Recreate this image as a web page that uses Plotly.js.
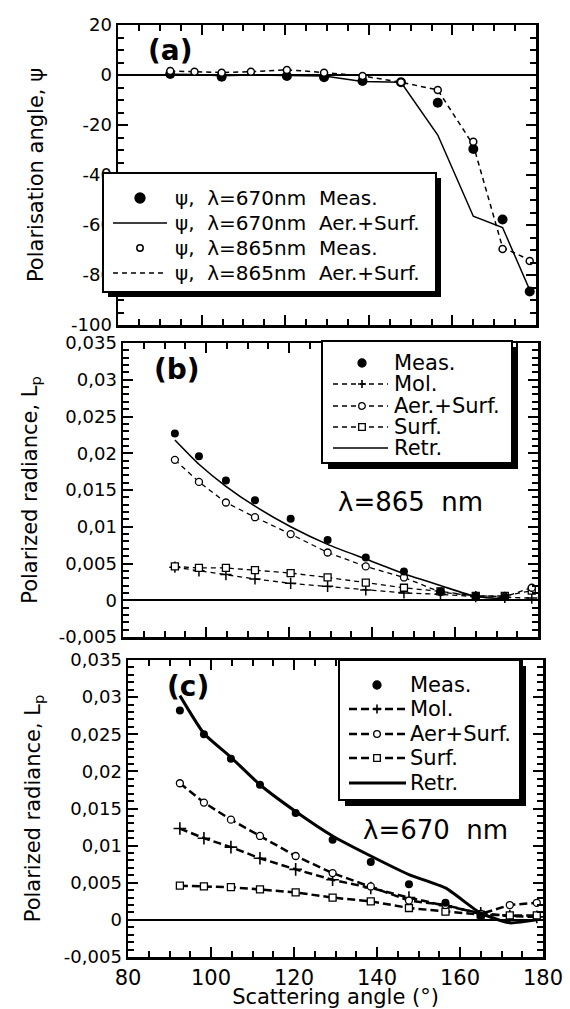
<!DOCTYPE html>
<html>
<head>
<meta charset="utf-8">
<script src="https://cdn.plot.ly/plotly-3.0.1.min.js"></script>
<style>
  html, body { margin: 0; padding: 0; background: #fff; }
  #fig { width: 570px; height: 1009px; }
</style>
</head>
<body>
<div id="fig"></div>
<script>
// Scattering angles (degrees) shared by all three panels
const ANGLES = [92.5, 98.3, 104.8, 111.8, 120.4, 129.3, 138.5, 147.7, 156.5, 165.0, 172.0, 178.5];

// (a) polarisation angle psi (degrees)
const psi670Meas  = [0.4, null, -0.7, null, -0.4, -0.9, -2.4, -2.9, -11.1, -29.6, -57.8, -86.6];
const psi670Model = [0.3, 0.2, -0.3, 0.0, -0.2, -0.4, -2.6, -2.9, -24.0, -56.5, -61.0, -86.0];
const psi865Meas  = [1.6, 1.3, 0.9, 1.3, 2.0, 0.9, -0.4, -2.9, -6.0, -26.7, -69.6, -74.4];
const psi865Model = [1.6, 1.4, 1.0, 1.3, 2.1, 1.0, -0.4, -2.9, -6.0, -28.0, -69.0, -74.0];

// (b) polarized radiance at 865 nm
const b865Meas = [0.0227, 0.0196, 0.0163, 0.0136, 0.0111, 0.0082, 0.0058, 0.0039, 0.0012, 0.0005, 0.0004, null];
const b865Mol  = [0.0045, 0.0040, 0.0035, 0.0029, 0.0023, 0.0019, 0.0014, 0.0010, 0.0008, 0.0005, 0.0004, 0.0003];
const b865Aer  = [0.0191, 0.0161, 0.0133, 0.0113, 0.0090, 0.0065, 0.0046, 0.0031, 0.0011, 0.0006, 0.0005, 0.0017];
const b865Surf = [0.0046, 0.0044, 0.0044, 0.0041, 0.0037, 0.0031, 0.0024, 0.0017, 0.0012, 0.0006, 0.0006, 0.0013];
const b865Retr = [0.0218, 0.0185, 0.0155, 0.0128, 0.0100, 0.0076, 0.0056, 0.0036, 0.0020, 0.0005, 0.0002, null];

// (c) polarized radiance at 670 nm
const c670Meas = [0.0282, 0.0250, 0.0217, 0.0182, 0.0144, 0.0108, 0.0078, 0.0048, 0.0023, 0.0006, null, null];
const c670Mol  = [0.0123, 0.0110, 0.0098, 0.0083, 0.0068, 0.0054, 0.0043, 0.0030, 0.0019, 0.0009, 0.0005, 0.0004];
const c670Aer  = [0.0184, 0.0158, 0.0135, 0.0113, 0.0086, 0.0063, 0.0045, 0.0026, 0.0020, 0.0008, 0.0020, 0.0023];
const c670Surf = [0.0046, 0.0045, 0.0044, 0.0041, 0.0037, 0.0030, 0.0025, 0.0016, 0.0011, 0.0007, 0.0006, 0.0006];
const c670Retr = [0.0302, 0.0251, 0.0219, 0.0182, 0.0146, 0.0113, 0.0086, 0.0061, 0.0043, 0.0009, -0.0004, 0.0000];

// Tick labels
const xTickVals = [80, 100, 120, 140, 160, 180];
const xTickText = ['80', '100', '120', '140', '160', '180'];
const psiTickVals = [20, 0, -20, -40, -60, -80, -100];
const psiTickText = ['20', '0', '-20', '-40', '-60', '-80', '-100'];
const lpTickVals = [0.035, 0.03, 0.025, 0.02, 0.015, 0.01, 0.005, 0, -0.005];
const lpTickText = ['0,035', '0,03', '0,025', '0,02', '0,015', '0,01', '0,005', '0', '-0,005'];

// Legend texts
const legendA = ['\u03C8,\u00A0 \u03BB=670nm\u00A0 Meas.', '\u03C8,\u00A0 \u03BB=670nm\u00A0 Aer.+Surf.',
                 '\u03C8,\u00A0 \u03BB=865nm\u00A0 Meas.', '\u03C8,\u00A0 \u03BB=865nm\u00A0 Aer.+Surf.'];
const legendB = ['Meas.', 'Mol.', 'Aer.+Surf.', 'Surf.', 'Retr.'];
const legendC = ['Meas.', 'Mol.', 'Aer+Surf.', 'Surf.', 'Retr.'];

const W = 570, H = 1009;
const FONT = 'DejaVu Sans';
const fx = p => p / W;
const fy = p => 1 - p / H;

const BLACK = '#000';
const dashThin = '5px,4px';
const dashThick = '8px,4px';

const traces = [
  // (a)
  { x: ANGLES, y: psi670Model, xaxis: 'x', yaxis: 'y', mode: 'lines',
    line: { color: BLACK, width: 1.5 } },
  { x: ANGLES, y: psi865Model, xaxis: 'x', yaxis: 'y', mode: 'lines',
    line: { color: BLACK, width: 1.5, dash: dashThin } },
  { x: ANGLES, y: psi670Meas, xaxis: 'x', yaxis: 'y', mode: 'markers',
    marker: { symbol: 'circle', size: 10, color: BLACK } },
  { x: ANGLES, y: psi865Meas, xaxis: 'x', yaxis: 'y', mode: 'markers',
    marker: { symbol: 'circle', size: 7, color: '#fff', line: { color: BLACK, width: 1.5 } } },

  // (b)
  { x: ANGLES, y: b865Mol, xaxis: 'x2', yaxis: 'y2', mode: 'lines+markers',
    line: { color: BLACK, width: 1.3, dash: dashThin },
    marker: { symbol: 'cross-thin-open', size: 8, color: BLACK, line: { color: BLACK, width: 1.5 } } },
  { x: ANGLES, y: b865Surf, xaxis: 'x2', yaxis: 'y2', mode: 'lines+markers',
    line: { color: BLACK, width: 1.3, dash: dashThin },
    marker: { symbol: 'square', size: 7, color: '#fff', line: { color: BLACK, width: 1.3 } } },
  { x: ANGLES, y: b865Aer, xaxis: 'x2', yaxis: 'y2', mode: 'lines+markers',
    line: { color: BLACK, width: 1.3, dash: dashThin },
    marker: { symbol: 'circle', size: 7, color: '#fff', line: { color: BLACK, width: 1.3 } } },
  { x: ANGLES, y: b865Retr, xaxis: 'x2', yaxis: 'y2', mode: 'lines',
    line: { color: BLACK, width: 1.6, shape: 'spline', smoothing: 0.6 } },
  { x: ANGLES, y: b865Meas, xaxis: 'x2', yaxis: 'y2', mode: 'markers',
    marker: { symbol: 'circle', size: 8, color: BLACK } },

  // (c)
  { x: ANGLES, y: c670Mol, xaxis: 'x3', yaxis: 'y3', mode: 'lines+markers',
    line: { color: BLACK, width: 2.5, dash: dashThick },
    marker: { symbol: 'cross-thin-open', size: 9, color: BLACK, line: { color: BLACK, width: 1.6 } } },
  { x: ANGLES, y: c670Surf, xaxis: 'x3', yaxis: 'y3', mode: 'lines+markers',
    line: { color: BLACK, width: 2.5, dash: dashThick },
    marker: { symbol: 'square', size: 7, color: '#fff', line: { color: BLACK, width: 1.3 } } },
  { x: ANGLES, y: c670Aer, xaxis: 'x3', yaxis: 'y3', mode: 'lines+markers',
    line: { color: BLACK, width: 2.5, dash: dashThick },
    marker: { symbol: 'circle', size: 7, color: '#fff', line: { color: BLACK, width: 1.3 } } },
  { x: ANGLES, y: c670Retr, xaxis: 'x3', yaxis: 'y3', mode: 'lines',
    line: { color: BLACK, width: 3, shape: 'spline', smoothing: 0.5 } },
  { x: ANGLES, y: c670Meas, xaxis: 'x3', yaxis: 'y3', mode: 'markers',
    marker: { symbol: 'circle', size: 8, color: BLACK } }
].map(t => Object.assign({ showlegend: false, hoverinfo: 'skip' }, t));

function xAxis(domain, anchor, labels) {
  return {
    domain: domain, anchor: anchor, range: [80, 180],
    showline: true, linewidth: 2.5, linecolor: BLACK, mirror: 'ticks',
    ticks: 'inside', ticklen: 10, tickwidth: 2, tickcolor: BLACK,
    tickmode: 'array', tickvals: xTickVals, ticktext: xTickText,
    showticklabels: labels, showgrid: false, zeroline: false,
    minor: { dtick: 5, ticks: 'inside', ticklen: 6, tickwidth: 2, tickcolor: BLACK, showgrid: false },
    tickfont: { family: FONT, size: 21, color: BLACK }, automargin: false
  };
}

function yAxis(domain, anchor, range, vals, text, minorStep, title, standoff) {
  return {
    domain: domain, anchor: anchor, range: range,
    showline: true, linewidth: 2.5, linecolor: BLACK, mirror: 'ticks',
    ticks: 'inside', ticklen: 10, tickwidth: 2, tickcolor: BLACK,
    tickmode: 'array', tickvals: vals, ticktext: text,
    showgrid: false, zeroline: true, zerolinecolor: BLACK, zerolinewidth: 1.6,
    minor: { dtick: minorStep, ticks: 'inside', ticklen: 6, tickwidth: 2, tickcolor: BLACK, showgrid: false },
    tickfont: { family: FONT, size: 18, color: BLACK }, automargin: false,
    title: { text: title, font: { family: FONT, size: 21, color: BLACK }, standoff: standoff }
  };
}

const layout = {
  width: W, height: H,
  margin: { l: 0, r: 0, t: 0, b: 0, pad: 0 },
  paper_bgcolor: '#fff', plot_bgcolor: '#fff',
  showlegend: false,
  font: { family: FONT, color: BLACK },
  xaxis: xAxis([118 / W, 536 / W], 'y', false),
  xaxis2: xAxis([123 / W, 538 / W], 'y2', false),
  xaxis3: Object.assign(xAxis([128 / W, 543 / W], 'y3', true), {
    title: { text: 'Scattering angle (\u00B0)', font: { family: FONT, size: 21, color: BLACK }, standoff: 2 }
  }),
  yaxis: yAxis([1 - 325 / H, 1 - 25 / H], 'x', [-100, 20], psiTickVals, psiTickText, 5,
               'Polarisation angle, \u03C8', 22),
  yaxis2: yAxis([1 - 637 / H, 1 - 343 / H], 'x2', [-0.005, 0.035], lpTickVals, lpTickText, 0.001,
                'Polarized radiance, L<sub>p</sub>', 16),
  yaxis3: yAxis([1 - 957 / H, 1 - 660 / H], 'x3', [-0.005, 0.035], lpTickVals, lpTickText, 0.001,
                'Polarized radiance, L<sub>p</sub>', 18),
  shapes: [],
  annotations: []
};

// ---- hand-drawn legend boxes ----
function legendBox(x0, y0, x1, y1, shadow) {
  layout.shapes.push({ type: 'rect', xref: 'paper', yref: 'paper', layer: 'above',
    x0: fx(x0 + shadow), x1: fx(x1 + shadow), y0: fy(y1 + shadow), y1: fy(y0 + shadow),
    fillcolor: BLACK, line: { width: 0 } });
  layout.shapes.push({ type: 'rect', xref: 'paper', yref: 'paper', layer: 'above',
    x0: fx(x0), x1: fx(x1), y0: fy(y1), y1: fy(y0),
    fillcolor: '#fff', line: { color: BLACK, width: 2 } });
}
function sampleLine(x0, x1, y, width, dash) {
  layout.shapes.push({ type: 'line', xref: 'paper', yref: 'paper', layer: 'above',
    x0: fx(x0), x1: fx(x1), y0: fy(y), y1: fy(y),
    line: { color: BLACK, width: width, dash: dash || 'solid' } });
}
function sampleCircle(cx, cy, r, filled, lw) {
  layout.shapes.push({ type: 'circle', xref: 'paper', yref: 'paper', layer: 'above',
    x0: fx(cx - r), x1: fx(cx + r), y0: fy(cy + r), y1: fy(cy - r),
    fillcolor: filled ? BLACK : '#fff', line: { color: BLACK, width: lw || 1.3 } });
}
function sampleSquare(cx, cy, r) {
  layout.shapes.push({ type: 'rect', xref: 'paper', yref: 'paper', layer: 'above',
    x0: fx(cx - r), x1: fx(cx + r), y0: fy(cy + r), y1: fy(cy - r),
    fillcolor: '#fff', line: { color: BLACK, width: 1.3 } });
}
function samplePlus(cx, cy, r) {
  layout.shapes.push({ type: 'path', xref: 'paper', yref: 'paper', layer: 'above',
    path: `M ${fx(cx - r)} ${fy(cy)} L ${fx(cx + r)} ${fy(cy)} M ${fx(cx)} ${fy(cy - r)} L ${fx(cx)} ${fy(cy + r)}`,
    line: { color: BLACK, width: 1.6 } });
}
function legendText(x, y, text, size) {
  layout.annotations.push({ xref: 'paper', yref: 'paper', x: fx(x), y: fy(y),
    xanchor: 'left', yanchor: 'middle', showarrow: false, text: text,
    font: { family: FONT, size: size, color: BLACK } });
}

// legend (a)
legendBox(103, 173, 436, 292, 5);
const rowsA = [198, 223, 248, 273];
sampleCircle(140, rowsA[0], 5, true);
sampleLine(113, 167, rowsA[1], 1.5);
sampleCircle(140, rowsA[2], 3.2, false, 1.5);
sampleLine(113, 167, rowsA[3], 1.5, dashThin);
legendA.forEach((t, i) => legendText(173, rowsA[i], t, 20));

// legend (b)
legendBox(322, 341, 512, 463, 6);
const rowsB = [363, 384, 406, 427, 448];
sampleCircle(362, rowsB[0], 4, true);
sampleLine(333, 388, rowsB[1], 1.3, dashThin); samplePlus(362, rowsB[1], 4);
sampleLine(333, 388, rowsB[2], 1.3, dashThin); sampleCircle(362, rowsB[2], 3.3, false);
sampleLine(333, 388, rowsB[3], 1.3, dashThin); sampleSquare(362, rowsB[3], 3.3);
sampleLine(333, 388, rowsB[4], 1.6);
legendB.forEach((t, i) => legendText(392, rowsB[i], t, 21));

// legend (c)
legendBox(339, 660, 520, 800, 6);
const rowsC = [685, 709, 734, 758, 783];
sampleCircle(377, rowsC[0], 4, true);
sampleLine(349, 406, rowsC[1], 2.5, dashThick); samplePlus(377, rowsC[1], 4.5);
sampleLine(349, 406, rowsC[2], 2.5, dashThick); sampleCircle(377, rowsC[2], 3.3, false);
sampleLine(349, 406, rowsC[3], 2.5, dashThick); sampleSquare(377, rowsC[3], 3.3);
sampleLine(349, 406, rowsC[4], 3);
legendC.forEach((t, i) => legendText(408, rowsC[i], t, 21));

// panel tags and wavelength notes
function note(x, y, text, size, bold) {
  layout.annotations.push({ xref: 'paper', yref: 'paper', x: fx(x), y: fy(y),
    xanchor: 'center', yanchor: 'middle', showarrow: false,
    text: bold ? '<b>' + text + '</b>' : text,
    font: { family: FONT, size: size, color: BLACK } });
}
note(170, 51, '(a)', 28, true);
note(177, 369, '(b)', 28, true);
note(188, 686, '(c)', 28, true);
note(410, 502, '\u03BB=865\u00A0 nm', 26, false);
note(435, 830, '\u03BB=670\u00A0 nm', 26, false);

Plotly.newPlot('fig', traces, layout, { staticPlot: true, displayModeBar: false });
</script>
</body>
</html>
